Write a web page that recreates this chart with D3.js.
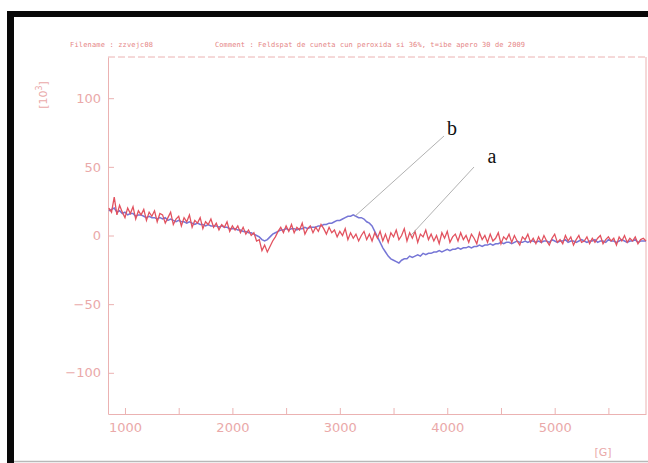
<!DOCTYPE html>
<html>
<head>
<meta charset="utf-8">
<script src="https://cdn.jsdelivr.net/npm/d3@7"></script>
<style>
  body { margin: 0; background: #fff; }
  svg { display: block; }
</style>
</head>
<body>
<div id="chart"></div>
<script>
// Magnetic field [G], sampled every 25 G
const fieldG = [
  850, 875, 900, 925, 950, 975, 1000, 1025, 1050, 1075, 1100, 1125, 1150, 1175, 1200, 1225, 1250, 1275, 1300, 1325,
  1350, 1375, 1400, 1425, 1450, 1475, 1500, 1525, 1550, 1575, 1600, 1625, 1650, 1675, 1700, 1725, 1750, 1775, 1800, 1825,
  1850, 1875, 1900, 1925, 1950, 1975, 2000, 2025, 2050, 2075, 2100, 2125, 2150, 2175, 2200, 2225, 2250, 2275, 2300, 2325,
  2350, 2375, 2400, 2425, 2450, 2475, 2500, 2525, 2550, 2575, 2600, 2625, 2650, 2675, 2700, 2725, 2750, 2775, 2800, 2825,
  2850, 2875, 2900, 2925, 2950, 2975, 3000, 3025, 3050, 3075, 3100, 3125, 3150, 3175, 3200, 3225, 3250, 3275, 3300, 3325,
  3350, 3375, 3400, 3425, 3450, 3475, 3500, 3525, 3550, 3575, 3600, 3625, 3650, 3675, 3700, 3725, 3750, 3775, 3800, 3825,
  3850, 3875, 3900, 3925, 3950, 3975, 4000, 4025, 4050, 4075, 4100, 4125, 4150, 4175, 4200, 4225, 4250, 4275, 4300, 4325,
  4350, 4375, 4400, 4425, 4450, 4475, 4500, 4525, 4550, 4575, 4600, 4625, 4650, 4675, 4700, 4725, 4750, 4775, 4800, 4825,
  4850, 4875, 4900, 4925, 4950, 4975, 5000, 5025, 5050, 5075, 5100, 5125, 5150, 5175, 5200, 5225, 5250, 5275, 5300, 5325,
  5350, 5375, 5400, 5425, 5450, 5475, 5500, 5525, 5550, 5575, 5600, 5625, 5650, 5675, 5700, 5725, 5750, 5775, 5800, 5825,
  5850
];

// spectrum a (red), intensity [10^3]
const spectrumA = [
  20, 17, 28, 15, 22, 17, 13, 20, 16, 21, 12, 18, 15, 19, 11, 17, 14, 18, 10, 16,
  15, 9, 13, 17, 8, 12, 14, 7, 13, 10, 15, 6, 11, 9, 13, 5, 10, 8, 12, 6,
  9, 4, 8, 6, 10, 3, 7, 4, 7, 2, 6, 1, 4, 0, 2, -4, -3, -11, -7, -12,
  -8, -4, -1, 3, 6, 2, 7, 3, 8, 2, 6, 4, 9, 1, 5, 7, 2, 6, 3, 8,
  5, 1, 6, 2, 4, -1, 3, 0, 5, -3, 2, -2, 1, -4, 0, 3, -3, 1, -4, 2,
  -2, 3, -4, 1, -5, 2, -1, 4, -3, 0, 5, -4, 2, -2, 3, -5, 1, -1, 4, -3,
  1, -4, 0, -6, 2, -2, 3, -5, -1, 1, -4, 2, -3, 0, -5, 1, -2, -6, 2, -3,
  0, -5, 1, -4, -2, 2, -6, -1, -3, 1, -5, 0, -4, -7, -1, -3, 1, -5, -2, -6,
  -1, -5, 0, -4, -7, -2, 1, -5, -3, -6, 0, -4, -1, -7, -3, 0, -5, -4, -1, -6,
  -2, -5, -2, 0, -6, -3, -1, -4, -2, -7, -1, -4, 0, -5, -2, -4, -1, -6, -3, -2,
  -4
];

// spectrum b (blue), intensity [10^3]
const spectrumB = [
  18, 19, 20, 17, 18, 16, 17, 15, 16, 16, 14, 15, 15, 14, 13, 14, 13, 13, 12, 13,
  12, 13, 11, 12, 11, 10, 11, 10, 10, 9, 10, 9, 8, 9, 8, 8, 7, 8, 7, 7,
  7, 6, 7, 6, 6, 5, 5, 5, 4, 4, 3, 3, 2, 2, 1, 0, -1, -3, -4, -3,
  -1, 1, 2, 3, 4, 4, 5, 4, 5, 5, 4, 5, 5, 6, 5, 6, 6, 6, 7, 7,
  8, 8, 9, 9, 10, 11, 11, 12, 13, 14, 14, 15, 14, 13, 13, 12, 10, 9, 7, 3,
  -1, -5, -9, -12, -15, -17, -18, -19, -20, -18, -17, -17, -15, -16, -15, -14, -15, -13, -14, -13,
  -13, -12, -12, -11, -12, -11, -10, -11, -10, -10, -9, -10, -9, -9, -8, -9, -8, -8, -7, -8,
  -7, -7, -6, -7, -6, -6, -5, -6, -5, -5, -6, -5, -4, -5, -5, -4, -5, -4, -4, -5,
  -4, -5, -4, -4, -5, -3, -4, -5, -4, -4, -3, -5, -4, -4, -5, -4, -3, -4, -5, -4,
  -4, -3, -5, -4, -4, -5, -3, -4, -4, -5, -4, -3, -4, -5, -4, -4, -3, -5, -4, -4,
  -4
];

const yTicks = [-100, -50, 0, 50, 100];
const xTicks = [1000, 1500, 2000, 2500, 3000, 3500, 4000, 4500, 5000, 5500];
const xLabelled = [1000, 2000, 3000, 4000, 5000];
const headerFile = "Filename : zzvejc08";
const headerComment = "Comment : Feldspat de cuneta cun peroxida si 36%, t=ibe apero 30 de 2009";

const W = 648, H = 463;
const plot = { left: 108, right: 646, top: 57, bottom: 414 };
const pink = "#ebb2b2";
const pinkText = "#eaa9a9";

const svg = d3.select("#chart").append("svg")
    .attr("width", W)
    .attr("height", H);

svg.append("rect").attr("width", W).attr("height", H).attr("fill", "#fff");

// scanned page frame
svg.append("rect").attr("x", 7).attr("y", 11).attr("width", W - 7).attr("height", 6).attr("fill", "#080808");
svg.append("rect").attr("x", 7).attr("y", 11).attr("width", 7).attr("height", H - 11).attr("fill", "#080808");
svg.append("line")
    .attr("x1", 14).attr("x2", W).attr("y1", 461.5).attr("y2", 461.5)
    .attr("stroke", "#b8b8b8").attr("stroke-width", 1.5);

// scales
const x = d3.scaleLinear().domain([842, 5850]).range([plot.left, plot.right]);
const y = d3.scaleLinear().domain([-130, 130]).range([plot.bottom, plot.top]);

// header texts
svg.append("text")
    .attr("x", 70).attr("y", 46.5)
    .attr("textLength", 83)
    .style("font", "7px 'DejaVu Sans Mono', monospace")
    .attr("fill", "#e58585")
    .text(headerFile);

svg.append("text")
    .attr("x", 215).attr("y", 46.5)
    .attr("textLength", 310)
    .style("font", "7px 'DejaVu Sans Mono', monospace")
    .attr("fill", "#e58585")
    .text(headerComment);

// plot frame: dashed top, right side
svg.append("line")
    .attr("x1", plot.left).attr("x2", plot.right)
    .attr("y1", plot.top).attr("y2", plot.top)
    .attr("stroke", pink).attr("stroke-dasharray", "7,3");
svg.append("line")
    .attr("x1", plot.right).attr("x2", plot.right)
    .attr("y1", plot.top).attr("y2", plot.bottom)
    .attr("stroke", pink);

// y axis
const yAxis = d3.axisLeft(y)
    .tickValues(yTicks)
    .tickSizeInner(-6)
    .tickSizeOuter(0)
    .tickPadding(7)
    .tickFormat(d3.format("d"));

const gy = svg.append("g")
    .attr("transform", `translate(${plot.left},0)`)
    .call(yAxis);

// x axis
const xAxis = d3.axisBottom(x)
    .tickValues(xTicks)
    .tickSizeInner(-6)
    .tickSizeOuter(0)
    .tickPadding(9)
    .tickFormat(d => xLabelled.includes(d) ? d : "");

const gx = svg.append("g")
    .attr("transform", `translate(0,${plot.bottom})`)
    .call(xAxis);

[gx, gy].forEach(g => {
  g.select(".domain").attr("stroke", pink);
  g.selectAll(".tick line").attr("stroke", pink);
  g.selectAll(".tick text")
      .attr("fill", pinkText)
      .style("font", "13px 'DejaVu Sans', sans-serif");
});

// axis units
svg.append("text")
    .attr("x", 603).attr("y", 456)
    .attr("text-anchor", "middle")
    .attr("fill", pinkText)
    .style("font", "11px 'DejaVu Sans', sans-serif")
    .text("[G]");

const yUnit = svg.append("text")
    .attr("transform", "translate(47,95) rotate(-90)")
    .attr("text-anchor", "middle")
    .attr("fill", pinkText)
    .style("font", "11px 'DejaVu Sans', sans-serif");
yUnit.append("tspan").text("[10");
yUnit.append("tspan").attr("dy", -5).style("font-size", "8px").text("3");
yUnit.append("tspan").attr("dy", 5).text("]");

// spectra
const line = d3.line()
    .x((d, i) => x(fieldG[i]))
    .y(d => y(d));

svg.append("path")
    .datum(spectrumB)
    .attr("d", line)
    .attr("fill", "none")
    .attr("stroke", "#7676d6")
    .attr("stroke-width", 1.5);

svg.append("path")
    .datum(spectrumA)
    .attr("d", line)
    .attr("fill", "none")
    .attr("stroke", "#e2525f")
    .attr("stroke-width", 1.3);

// annotation leaders and letters
const notes = [
  { label: "b", g: 3140, v: 14, tx: 444, ty: 136, lx: 452, ly: 135 },
  { label: "a", g: 3660, v: 0, tx: 474, ty: 167, lx: 492, ly: 163 }
];

notes.forEach(n => {
  svg.append("line")
      .attr("x1", x(n.g)).attr("y1", y(n.v))
      .attr("x2", n.tx).attr("y2", n.ty)
      .attr("stroke", "#a8a8a8")
      .attr("stroke-width", 0.9);
  svg.append("text")
      .attr("x", n.lx).attr("y", n.ly)
      .attr("text-anchor", "middle")
      .style("font", "20px 'Liberation Serif', serif")
      .attr("fill", "#111")
      .text(n.label);
});
</script>
</body>
</html>
